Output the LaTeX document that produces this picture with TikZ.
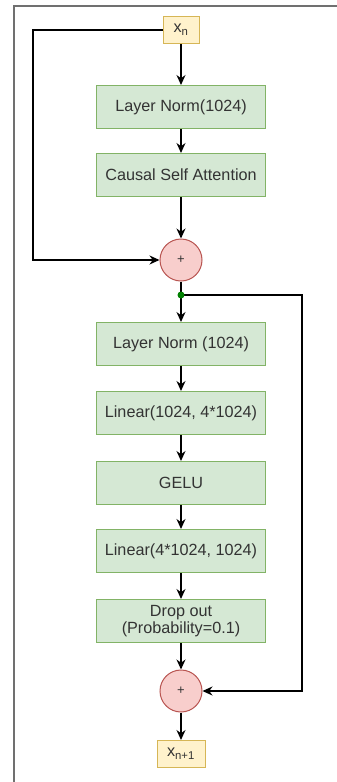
\documentclass[tikz,border=0pt]{standalone}
\usepackage{fontspec}
\setmainfont{Liberation Sans}
\usetikzlibrary{arrows.meta}
\definecolor{gfill}{HTML}{D5E8D4}
\definecolor{gdraw}{HTML}{82B366}
\definecolor{yfill}{HTML}{FFF2CC}
\definecolor{ydraw}{HTML}{D6B656}
\definecolor{rfill}{HTML}{F8CECC}
\definecolor{rdraw}{HTML}{B85450}
\definecolor{txt}{HTML}{333333}
\definecolor{frame}{HTML}{707070}
\definecolor{dot}{HTML}{008000}
\begin{document}
\begin{tikzpicture}[x=1pt,y=-1pt,
  blk/.style={draw=gdraw,fill=gfill,line width=1pt,minimum width=169pt,minimum height=43pt,inner sep=1pt,align=center,text=txt,font=\fontsize{16.2}{17.5}\selectfont},
  io/.style={draw=ydraw,fill=yfill,line width=1pt,minimum height=27pt,inner sep=2pt,text=txt,font=\fontsize{16.2}{17.5}\selectfont},
  plus/.style={circle,draw=rdraw,fill=rfill,line width=1pt,minimum size=42pt,inner sep=0pt,text=txt,font=\fontsize{13}{15}\selectfont},
  conn/.style={line width=1.4pt,-{Stealth[length=10pt,width=9pt]}},
  wire/.style={line width=1.4pt}]
\useasboundingbox (0,0) rectangle (337,782);
\fill[white] (0,0) rectangle (337,782);
\draw[frame,line width=2pt] (14,782) -- (14,6) -- (337,6);

\node[io,minimum width=36pt] (xn) at (181,30) {x\textsubscript{n}};
\node[blk] (ln1) at (181,107) {Layer Norm(1024)};
\node[blk] (csa) at (181,175) {Causal Self Attention};
\node[plus] (p1) at (181,260) {+};
\coordinate (split) at (181,295);
\node[blk] (ln2) at (181,344) {Layer Norm (1024)};
\node[blk] (lin1) at (181,413) {Linear(1024, 4*1024)};
\node[blk] (gelu) at (181,483) {GELU};
\node[blk] (lin2) at (181,551) {Linear(4*1024, 1024)};
\node[blk] (drop) at (181,621) {Drop out\\(Probability=0.1)};
\node[plus] (p2) at (181,691) {+};
\node[io,minimum width=48pt] (xn1) at (181,754) {x\textsubscript{n+1}};

\coordinate (l1) at (33,30);
\coordinate (l2) at (33,260);
\coordinate (r1) at (302,295);
\coordinate (r2) at (302,691);

\draw[conn] (xn) -- (ln1);
\draw[conn] (ln1) -- (csa);
\draw[conn] (csa) -- (p1);
\draw[conn] (xn.west) -- (l1) -- (l2) -- (p1.west);
\draw[wire] (p1) -- (split);
\draw[conn] (split) -- (ln2);
\draw[conn] (split) -- (r1) -- (r2) -- (p2.east);
\draw[conn] (ln2) -- (lin1);
\draw[conn] (lin1) -- (gelu);
\draw[conn] (gelu) -- (lin2);
\draw[conn] (lin2) -- (drop);
\draw[conn] (drop) -- (p2);
\draw[conn] (p2) -- (xn1);
\fill[dot] (split) circle (3.5pt);
\end{tikzpicture}
\end{document}
